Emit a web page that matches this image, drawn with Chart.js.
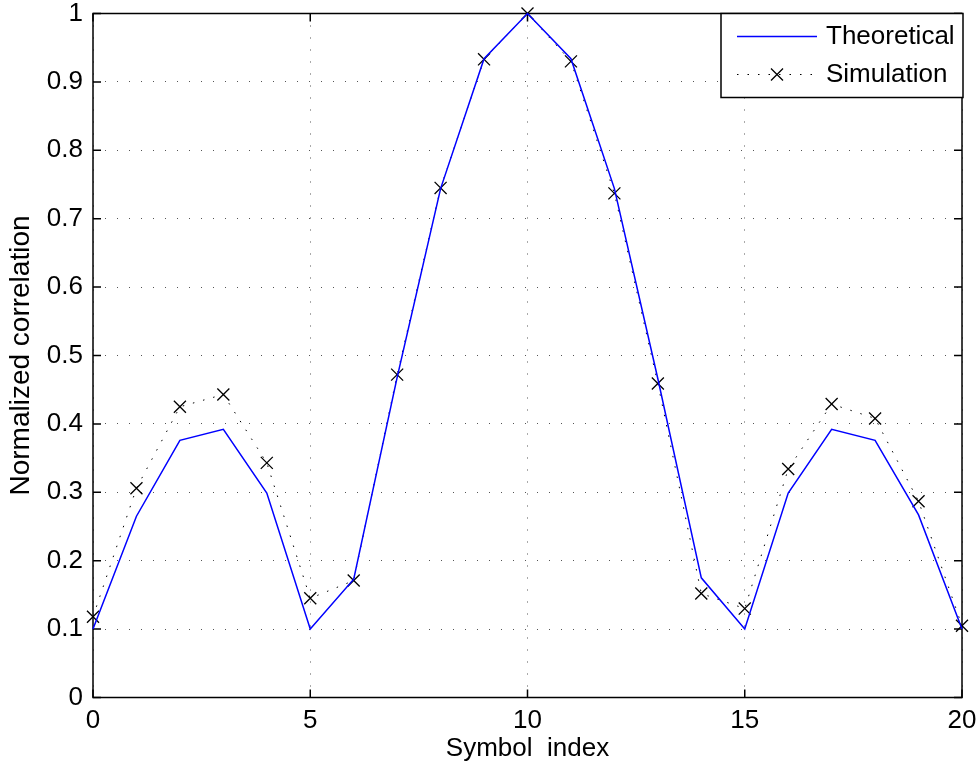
<!DOCTYPE html>
<html>
<head>
<meta charset="utf-8">
<script src="https://cdn.jsdelivr.net/npm/chart.js@4/dist/chart.umd.min.js"></script>
<style>
  body { margin: 0; background: #fff; }
</style>
</head>
<body>
<canvas id="corr" width="978" height="772"></canvas>
<script>
// symbol index (x) and the two curves
const symbolIndex = [0, 1, 2, 3, 4, 5, 6, 7, 8, 9, 10, 11, 12, 13, 14, 15, 16, 17, 18, 19, 20];
const theoretical = [0.100, 0.265, 0.376, 0.392, 0.299, 0.100, 0.173, 0.468, 0.744, 0.934, 1.000,
                     0.934, 0.744, 0.466, 0.175, 0.100, 0.299, 0.392, 0.376, 0.267, 0.100];
const simulation = [0.118, 0.306, 0.425, 0.443, 0.343, 0.145, 0.171, 0.472, 0.745, 0.933, 1.000,
                    0.930, 0.737, 0.459, 0.152, 0.130, 0.334, 0.429, 0.408, 0.287, 0.105];
const xTicks = [0, 5, 10, 15, 20];
const yTicks = [0, 0.1, 0.2, 0.3, 0.4, 0.5, 0.6, 0.7, 0.8, 0.9, 1];

const FONT = "'Liberation Sans', Arial, Helvetica, sans-serif";

// MATLAB-like box round the axes, ticks pointing inward on all four sides
const boxPlugin = {
  id: 'box',
  beforeDatasetsDraw(chart) {
    const ctx = chart.ctx;
    const a = chart.chartArea;
    const xs = chart.scales.x, ys = chart.scales.y;
    const len = 8;
    ctx.save();
    ctx.strokeStyle = '#000';
    ctx.lineWidth = 1.5;
    ctx.strokeRect(a.left, a.top, a.right - a.left, a.bottom - a.top);
    ctx.beginPath();
    xTicks.forEach(function (v) {
      const px = xs.getPixelForValue(v);
      ctx.moveTo(px, a.bottom); ctx.lineTo(px, a.bottom - len);
      ctx.moveTo(px, a.top); ctx.lineTo(px, a.top + len);
    });
    yTicks.forEach(function (v) {
      const py = ys.getPixelForValue(v);
      ctx.moveTo(a.left, py); ctx.lineTo(a.left + len, py);
      ctx.moveTo(a.right, py); ctx.lineTo(a.right - len, py);
    });
    ctx.stroke();
    ctx.restore();
  }
};

// legend box in the top right corner
const legendPlugin = {
  id: 'boxLegend',
  afterDatasetsDraw(chart) {
    const ctx = chart.ctx;
    const a = chart.chartArea;
    const right = a.right + 1, top = a.top, w = 242, h = 84;
    const left = right - w;
    ctx.save();
    ctx.fillStyle = '#fff';
    ctx.fillRect(left, top, w, h);
    ctx.strokeStyle = '#000';
    ctx.lineWidth = 1.5;
    ctx.strokeRect(left, top, w, h);

    const ds = chart.data.datasets;
    const x0 = left + 16, x1 = left + 96, tx = left + 105;
    const rows = [top + 23, top + 61];

    // theoretical: solid blue
    ctx.strokeStyle = ds[0].borderColor;
    ctx.lineWidth = ds[0].borderWidth;
    ctx.beginPath(); ctx.moveTo(x0, rows[0]); ctx.lineTo(x1, rows[0]); ctx.stroke();

    // simulation: dotted black with a cross
    ctx.strokeStyle = ds[1].borderColor;
    ctx.lineWidth = ds[1].borderWidth;
    ctx.setLineDash(ds[1].borderDash);
    ctx.beginPath(); ctx.moveTo(x0, rows[1]); ctx.lineTo(x1, rows[1]); ctx.stroke();
    ctx.setLineDash([]);
    const mx = (x0 + x1) / 2, r = 6;
    ctx.lineWidth = ds[1].pointBorderWidth;
    ctx.beginPath();
    ctx.moveTo(mx - r, rows[1] - r); ctx.lineTo(mx + r, rows[1] + r);
    ctx.moveTo(mx + r, rows[1] - r); ctx.lineTo(mx - r, rows[1] + r);
    ctx.stroke();

    ctx.fillStyle = '#000';
    ctx.font = '26px ' + FONT;
    ctx.textBaseline = 'middle';
    ctx.textAlign = 'left';
    ctx.fillText(ds[0].label, tx, rows[0]);
    ctx.fillText(ds[1].label, tx, rows[1]);
    ctx.restore();
  }
};

new Chart(document.getElementById('corr'), {
  type: 'line',
  data: {
    datasets: [{
      label: 'Theoretical',
      data: symbolIndex.map((x, i) => ({ x: x, y: theoretical[i] })),
      borderColor: '#0000ff',
      borderWidth: 1.5,
      pointRadius: 0,
      tension: 0,
      clip: false
    }, {
      label: 'Simulation',
      data: symbolIndex.map((x, i) => ({ x: x, y: simulation[i] })),
      borderColor: '#000',
      borderWidth: 1,
      borderDash: [1.5, 9],
      pointStyle: 'crossRot',
      pointRadius: 8.5,
      pointBorderColor: '#000',
      pointBorderWidth: 1.3,
      pointBackgroundColor: '#000',
      tension: 0,
      clip: false
    }]
  },
  options: {
    responsive: false,
    animation: false,
    devicePixelRatio: 1,
    layout: { padding: { left: 0, right: 16, top: 13.5, bottom: 0 } },
    plugins: {
      legend: { display: false },
      tooltip: { enabled: false }
    },
    scales: {
      x: {
        type: 'linear',
        min: 0,
        max: 20,
        afterBuildTicks: function (s) { s.ticks = xTicks.map(v => ({ value: v })); },
        afterFit: function (s) {
          s.height = 74.5;
          s.paddingLeft = 0; s.paddingRight = 0;
        },
        ticks: { color: '#000', font: { family: FONT, size: 26 }, padding: 8, maxRotation: 0 },
        grid: { color: '#555', lineWidth: 1, drawTicks: false },
        border: { display: false, dash: [1, 11] },
        title: {
          display: true,
          text: 'Symbol  index',
          color: '#000',
          font: { family: FONT, size: 26, lineHeight: 1 },
          padding: { top: 0, bottom: 10 }
        }
      },
      y: {
        type: 'linear',
        min: 0,
        max: 1,
        afterBuildTicks: function (s) { s.ticks = yTicks.map(v => ({ value: v })); },
        afterFit: function (s) {
          s.width = 93;
          s.paddingTop = 0; s.paddingBottom = 0;
        },
        ticks: {
          color: '#000',
          font: { family: FONT, size: 26 },
          padding: 10,
          callback: function (v) { return String(+v.toFixed(1)); }
        },
        grid: { color: '#555', lineWidth: 1, drawTicks: false },
        border: { display: false, dash: [1, 11] },
        title: {
          display: true,
          text: 'Normalized correlation',
          color: '#000',
          font: { family: FONT, size: 28, lineHeight: 1 },
          padding: { top: 7, bottom: 0 }
        }
      }
    }
  },
  plugins: [boxPlugin, legendPlugin]
});
</script>
</body>
</html>
